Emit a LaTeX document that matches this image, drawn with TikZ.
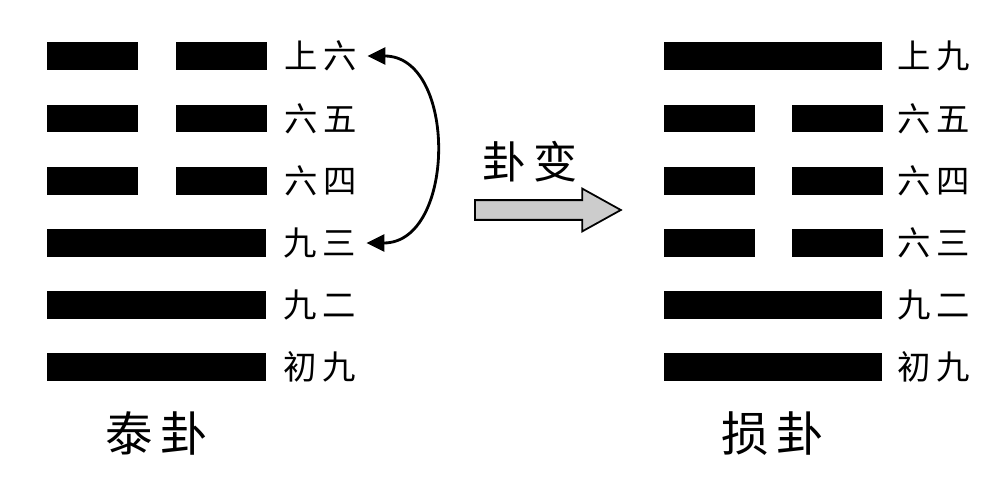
\documentclass[tikz,border=0pt]{standalone}
\usepackage{fontspec}
\newfontfamily\cjk{Noto Sans CJK SC}
\usepackage{tikz}
\usetikzlibrary{shapes.arrows, arrows.meta, positioning}

\begin{document}
\begin{tikzpicture}[
    x=0.02cm, y=-0.02cm,
    node distance=0.34cm,
    yangbar/.style={rectangle, fill=black, inner sep=0pt, minimum width=4.38cm, minimum height=0.56cm},
    yinbar/.style={rectangle, fill=black, inner sep=0pt, minimum width=1.82cm, minimum height=0.56cm},
    yaolabel/.style={font=\cjk\fontsize{19pt}{19pt}\selectfont, inner sep=0pt},
    guaname/.style={font=\cjk\fontsize{27pt}{27pt}\selectfont, inner sep=0pt},
    linkarrow/.style={line width=1.6pt, {Triangle[length=0.36cm,width=0.34cm]}-{Triangle[length=0.36cm,width=0.34cm]}},
    bigarrow/.style={single arrow, draw=black, fill=black!20, line width=1pt, inner xsep=0pt, inner ysep=0.18cm, minimum height=2.92cm, single arrow head extend=0.23cm, single arrow tip angle=58}
]
    \useasboundingbox (0,0) rectangle (1000,486);

    % Tai gua (left)
    \node (tb1) [yangbar] at (156.5,367) {};
    \node (tb2) [yangbar] at (156.5,305) {};
    \node (tb3) [yangbar] at (156.5,243) {};
    \node (tb4a) [yinbar] at (92.5,181) {};
    \node (tb4b) [yinbar] at (221.5,181) {};
    \node (tb5a) [yinbar] at (92.5,118.5) {};
    \node (tb5b) [yinbar] at (221.5,118.5) {};
    \node (tb6a) [yinbar] at (92.5,56) {};
    \node (tb6b) [yinbar] at (221.5,56) {};

    \node (tl1) [yaolabel, right=of tb1] {初\,九};
    \node (tl2) [yaolabel, right=of tb2] {九\,二};
    \node (tl3) [yaolabel, right=of tb3] {九\,三};
    \node (tl4) [yaolabel, right=of tb4b] {六\,四};
    \node (tl5) [yaolabel, right=of tb5b] {六\,五};
    \node (tl6) [yaolabel, right=of tb6b] {上\,六};

    \node (tai) [guaname, below=0.6cm of tb1] {泰\,卦};

    % Sun gua (right)
    \node (sb1) [yangbar] at (773,367) {};
    \node (sb2) [yangbar] at (773,305) {};
    \node (sb3a) [yinbar] at (709,243) {};
    \node (sb3b) [yinbar] at (837.5,243) {};
    \node (sb4a) [yinbar] at (709,181) {};
    \node (sb4b) [yinbar] at (837.5,181) {};
    \node (sb5a) [yinbar] at (709,118.5) {};
    \node (sb5b) [yinbar] at (837.5,118.5) {};
    \node (sb6) [yangbar] at (773,56) {};

    \node (sl1) [yaolabel, right=0.28cm of sb1] {初\,九};
    \node (sl2) [yaolabel, right=0.28cm of sb2] {九\,二};
    \node (sl3) [yaolabel, right=0.28cm of sb3b] {六\,三};
    \node (sl4) [yaolabel, right=0.28cm of sb4b] {六\,四};
    \node (sl5) [yaolabel, right=0.28cm of sb5b] {六\,五};
    \node (sl6) [yaolabel, right=0.28cm of sb6] {上\,九};

    \node (sun) [guaname, below=0.6cm of sb1] {损\,卦};

    % Change
    \node (chg) [bigarrow, anchor=tail] at (474,210) {};
    \node (chgtext) [font=\cjk\fontsize{25pt}{25pt}\selectfont, inner sep=0pt] at (530,162) {卦\,变};

    % Flows
    \draw [linkarrow] ([xshift=0.2cm]tl6.east) .. controls +(90,0) and +(90,0) .. ([xshift=0.2cm]tl3.east);

\end{tikzpicture}
\end{document}
